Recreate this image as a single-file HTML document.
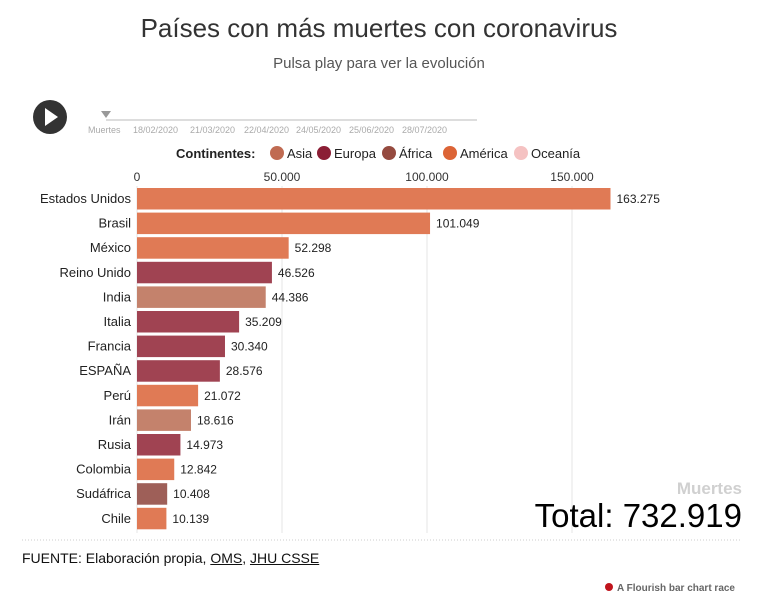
<!DOCTYPE html>
<html><head><meta charset="utf-8"><style>
body{margin:0;width:758px;height:598px;background:#fff;font-family:"Liberation Sans",sans-serif;overflow:hidden;position:relative}
.t{position:absolute;white-space:nowrap}
</style></head><body>
<div class="t" style="left:0;width:758px;text-align:center;top:13px;font-size:26px;color:#333">Países con más muertes con coronavirus</div>
<div class="t" style="left:0;width:758px;text-align:center;top:55px;font-size:15px;color:#555">Pulsa play para ver la evolución</div>
<svg width="758" height="598" style="position:absolute;left:0;top:0" id="svg">
<g><circle cx="50" cy="117" r="17" fill="#333"/><path d="M45 108 L58 117 L45 126 Z" fill="#fff"/></g>
<g>
<line x1="106" y1="120" x2="477" y2="120" stroke="#bbb"/>
<path d="M101 111 L111 111 L106 118 Z" fill="#999"/>
</g>
<g font-size="9" fill="#aaa">
<text x="88" y="133">Muertes</text><text x="133" y="133">18/02/2020</text><text x="190" y="133">21/03/2020</text><text x="244" y="133">22/04/2020</text><text x="296" y="133">24/05/2020</text><text x="349" y="133">25/06/2020</text><text x="402" y="133">28/07/2020</text>
</g>
<g font-size="13">
<text x="176" y="158" font-weight="bold" fill="#222">Continentes:</text>
<circle cx="277" cy="153" r="7" fill="#c06b52"/><text x="287" y="158" fill="#222">Asia</text>
<circle cx="324" cy="153" r="7" fill="#8b1e35"/><text x="334" y="158" fill="#222">Europa</text>
<circle cx="389" cy="153" r="7" fill="#954a3f"/><text x="399" y="158" fill="#222">África</text>
<circle cx="450" cy="153" r="7" fill="#dc6436"/><text x="460" y="158" fill="#222">América</text>
<circle cx="521" cy="153" r="7" fill="#f5c2c2"/><text x="531" y="158" fill="#222">Oceanía</text>
</g>
<g id="chart"></g>
<text x="742" y="494" text-anchor="end" font-size="17" font-weight="bold" fill="#d0d0d0">Muertes</text>
<text x="742" y="527" text-anchor="end" font-size="33" fill="#000">Total: 732.919</text>
<line x1="22" y1="540" x2="742" y2="540" stroke="#ccc" stroke-dasharray="1,2"/>
<circle cx="609" cy="587" r="4" fill="#c0141c"/>
<text x="617" y="591" font-size="10" font-weight="bold" fill="#666">A Flourish bar chart race</text>
</svg>
<div class="t" style="left:22px;top:550px;font-size:14px;color:#111">FUENTE: Elaboración propia, <u>OMS</u>, <u>JHU CSSE</u></div>
<script>
const countries=["Estados Unidos","Brasil","México","Reino Unido","India","Italia","Francia","ESPAÑA","Perú","Irán","Rusia","Colombia","Sudáfrica","Chile"];
const deaths=[163275,101049,52298,46526,44386,35209,30340,28576,21072,18616,14973,12842,10408,10139];
const continents=["América","América","América","Europa","Asia","Europa","Europa","Europa","América","Asia","Europa","América","África","América"];
const ticks=[0,50000,100000,150000];
const tickLabels=["0","50.000","100.000","150.000"];
const colors={"América":"#e07a55","Europa":"#a04352","Asia":"#c4826c","África":"#9e5f58"};
const NS="http://www.w3.org/2000/svg";
const g=document.getElementById("chart");
const x=v=>137+v*(572-137)/150000;
const y=i=>188+i*24.6;
function mk(t,a,txt){const e=document.createElementNS(NS,t);for(const k in a)e.setAttribute(k,a[k]);if(txt!=null)e.textContent=txt;g.appendChild(e);return e;}
ticks.forEach((t,i)=>{
 const l=mk("line",{x1:x(t),x2:x(t),y1:186,y2:533,stroke:"#e4e4e4"});
 
 
 const tx=mk("text",{x:x(t),y:181,"text-anchor":"middle","font-size":12,fill:"#333"},tickLabels[i]);
 
 
});
countries.forEach((c,i)=>{
 const b=mk("rect",{x:x(0),y:y(i),width:x(deaths[i])-x(0),height:21.5,fill:colors[continents[i]]});
 
 
 const n=mk("text",{x:131,y:y(i)+15,"text-anchor":"end","font-size":13,fill:"#222"},c);
 
 
 const v=mk("text",{x:x(deaths[i])+6,y:y(i)+15,"font-size":12,fill:"#222"},deaths[i].toLocaleString("de-DE"));
 
 
});
</script>
</body></html>
